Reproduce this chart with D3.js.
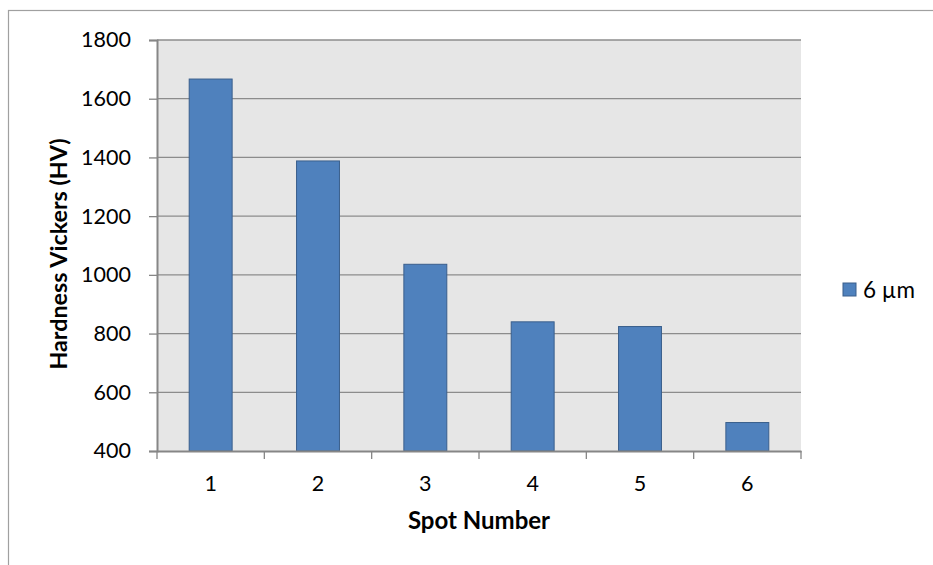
<!DOCTYPE html>
<html><head><meta charset="utf-8">
<script src="https://cdn.jsdelivr.net/npm/d3@7/dist/d3.min.js"></script>
<style>body{margin:0;background:#fff}svg{display:block}text{font-family:Lato,"Open Sans",sans-serif}</style>
</head><body>
<svg id="c" width="933" height="565"></svg>
<script>
const categories = ["1","2","3","4","5","6"];
const values = [1667, 1388, 1036, 840, 824, 497];
const yTicks = [400,600,800,1000,1200,1400,1600,1800];
const seriesName = "6 µm";

const svg = d3.select("#c");
const m = {l:157, t:40, r:801, b:451};
svg.append("rect").attr("x",8.5).attr("y",10.5).attr("width",940).attr("height",570)
  .attr("fill","none").attr("stroke","#a0a0a0").attr("stroke-width",1.2);

const x = d3.scaleBand().domain(categories).range([m.l,m.r]).paddingInner(0.6).paddingOuter(0.3);
const xb = d3.scaleBand().domain(categories).range([m.l,m.r]);
const y = d3.scaleLinear().domain([400,1800]).range([m.b,m.t]);

svg.append("rect").attr("x",m.l).attr("y",m.t).attr("width",m.r-m.l).attr("height",m.b-m.t).attr("fill","#e6e6e6");

svg.append("g").selectAll("line").data(yTicks.filter(d=>d>400)).join("line")
  .attr("x1",m.l).attr("x2",m.r).attr("y1",d=>y(d)).attr("y2",d=>y(d))
  .attr("stroke","#8c8c8c").attr("stroke-width",1.3);

svg.append("g").selectAll("rect").data(values).join("rect")
  .attr("x",(d,i)=>x(categories[i])).attr("width",x.bandwidth())
  .attr("y",d=>y(d)).attr("height",d=>y(400)-y(d))
  .attr("fill","#4f81bd").attr("stroke","#3a5f8c").attr("stroke-width",1);

// y axis
const ya = svg.append("g").attr("transform",`translate(${m.l},0)`)
  .call(d3.axisLeft(y).tickValues(yTicks).tickSize(8).tickPadding(18).tickFormat(d3.format("d")));
ya.select(".domain").attr("stroke","#868686").attr("stroke-width",2);
ya.selectAll(".tick line").attr("stroke","#868686").attr("stroke-width",1.3);
ya.selectAll("text").attr("font-size",21.5).attr("fill","#000").attr("font-family","Lato");

// x axis
const xa = svg.append("g").attr("transform",`translate(0,${m.b})`)
  .call(d3.axisBottom(xb).tickSize(0).tickPadding(25));
xa.select(".domain").attr("stroke","#868686").attr("stroke-width",2);
xa.selectAll("text").attr("font-size",21.5).attr("fill","#000").attr("font-family","Lato");
const bounds = categories.map(c=>xb(c)).concat([m.r]);
xa.selectAll(".bt").data(bounds).join("line").attr("class","bt")
  .attr("x1",d=>d).attr("x2",d=>d).attr("y1",0).attr("y2",8)
  .attr("stroke","#868686").attr("stroke-width",1.3);

svg.append("text").attr("x",479).attr("y",529).attr("text-anchor","middle")
  .attr("font-size",24).attr("font-weight","bold").text("Spot Number");
svg.append("text").attr("transform",`translate(67,254) rotate(-90)`).attr("text-anchor","middle")
  .attr("font-size",23.3).attr("font-weight","bold").text("Hardness Vickers (HV)");

// legend
svg.append("rect").attr("x",843).attr("y",283).attr("width",13).attr("height",13)
  .attr("fill","#4f81bd").attr("stroke","#3a5f8c").attr("stroke-width",1);
svg.append("text").attr("x",863).attr("y",298).attr("font-size",22.5).text(seriesName);
</script>
</body></html>
